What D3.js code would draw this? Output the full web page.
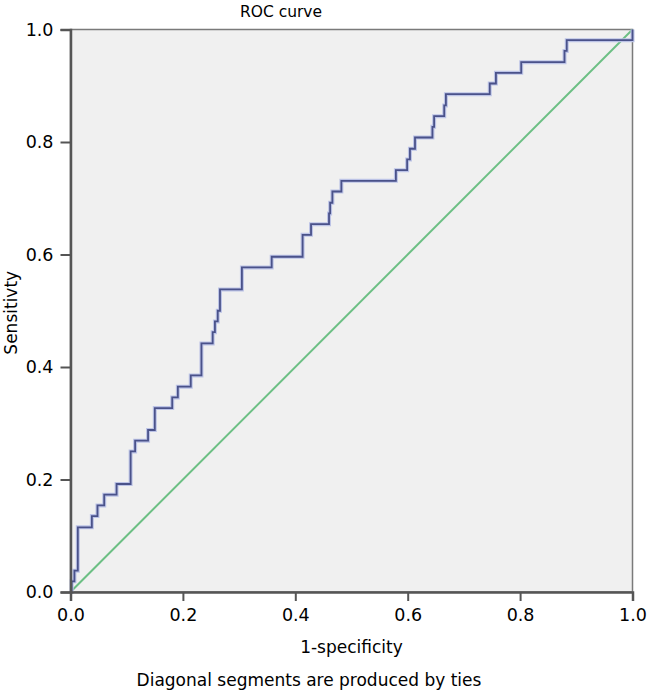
<!DOCTYPE html>
<html>
<head>
<meta charset="utf-8">
<script src="https://cdn.jsdelivr.net/npm/d3@7"></script>
<style>
  body { margin: 0; background: #fff; }
  text { font-family: "DejaVu Sans", sans-serif; fill: #000; }
</style>
</head>
<body>
<svg id="chart" width="648" height="693"></svg>
<script>
// ROC points (1-specificity, sensitivity)
const fpr = [0, 0.002, 0.007, 0.013, 0.038, 0.048, 0.060, 0.082, 0.107, 0.115, 0.138, 0.150,
  0.181, 0.191, 0.214, 0.233, 0.253, 0.257, 0.262, 0.266, 0.305, 0.358, 0.413, 0.428,
  0.460, 0.462, 0.466, 0.482, 0.579, 0.599, 0.604, 0.613, 0.644, 0.647, 0.665, 0.668,
  0.746, 0.757, 0.802, 0.879, 0.883, 1.0, 1.0];
const tpr = [0, 0.019, 0.038, 0.115, 0.135, 0.154, 0.173, 0.192, 0.250, 0.269, 0.288, 0.327,
  0.346, 0.365, 0.385, 0.442, 0.462, 0.481, 0.500, 0.538, 0.577, 0.596, 0.635, 0.654,
  0.673, 0.692, 0.712, 0.731, 0.750, 0.769, 0.788, 0.808, 0.827, 0.846, 0.865, 0.885,
  0.904, 0.923, 0.942, 0.962, 0.981, 0.981, 1.0];
const diagonal = [[0, 0], [1, 1]];
const tickValues = [0, 0.2, 0.4, 0.6, 0.8, 1.0];

const svg = d3.select("#chart");
const plotLeft = 70.5, plotRight = 632.5, plotTop = 29.5, plotBottom = 592;

const x = d3.scaleLinear().domain([0, 1]).range([plotLeft, plotRight]);
const y = d3.scaleLinear().domain([0, 1]).range([plotBottom, plotTop]);

// plot background + frame
svg.append("rect")
  .attr("x", plotLeft).attr("y", plotTop)
  .attr("width", plotRight - plotLeft).attr("height", plotBottom - plotTop)
  .attr("fill", "#f0f0f0")
  .attr("stroke", "#7a7a7a")
  .attr("stroke-width", 1.5);

// reference diagonal
svg.append("path")
  .datum(diagonal)
  .attr("d", d3.line().x(d => x(d[0])).y(d => y(d[1])))
  .attr("fill", "none")
  .attr("stroke", "#6cbf84")
  .attr("stroke-width", 2);

// ROC curve (light halo under the dark line, like the original)
const pts = fpr.map((f, i) => [f, tpr[i]]);
const stepLine = d3.line().x(d => x(d[0])).y(d => y(d[1])).curve(d3.curveStepAfter);
svg.append("path")
  .datum(pts)
  .attr("d", stepLine)
  .attr("fill", "none")
  .attr("stroke", "#bcc3e6")
  .attr("stroke-width", 4);
svg.append("path")
  .datum(pts)
  .attr("d", stepLine)
  .attr("fill", "none")
  .attr("stroke", "#4a528a")
  .attr("stroke-width", 1.8);

// axes
const xAxis = svg.append("g")
  .attr("transform", `translate(0,${plotBottom})`)
  .call(d3.axisBottom(x).tickValues(tickValues).tickFormat(d3.format(".1f")).tickSize(9).tickPadding(8));
const yAxis = svg.append("g")
  .attr("transform", `translate(${plotLeft},0)`)
  .call(d3.axisLeft(y).tickValues(tickValues).tickFormat(d3.format(".1f")).tickSize(10).tickPadding(7));

[xAxis, yAxis].forEach(g => {
  g.select(".domain").attr("stroke", "#555").attr("stroke-width", 2.5);
  g.selectAll(".tick line").attr("stroke", "#555").attr("stroke-width", 2);
  g.selectAll(".tick text")
    .style("font-family", "'DejaVu Sans', sans-serif")
    .style("font-size", "17.5px")
    .attr("fill", "#000");
});

// titles
svg.append("text")
  .attr("x", 281).attr("y", 17)
  .attr("text-anchor", "middle")
  .style("font-size", "15.5px")
  .text("ROC curve");

svg.append("text")
  .attr("transform", `translate(17,${(plotTop + plotBottom) / 2 + 2}) rotate(-90)`)
  .attr("text-anchor", "middle")
  .style("font-size", "17px")
  .text("Sensitivty");

svg.append("text")
  .attr("x", (plotLeft + plotRight) / 2).attr("y", 653)
  .attr("text-anchor", "middle")
  .style("font-size", "17px")
  .text("1-specificity");

svg.append("text")
  .attr("x", 309).attr("y", 686)
  .attr("text-anchor", "middle")
  .style("font-size", "17px")
  .text("Diagonal segments are produced by ties");
</script>
</body>
</html>
